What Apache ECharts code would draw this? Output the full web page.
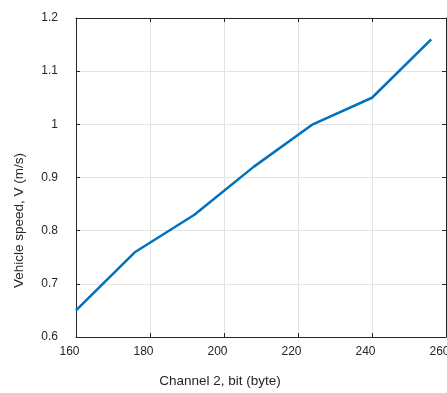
<!DOCTYPE html>
<html><head><meta charset="utf-8">
<script src="https://cdn.jsdelivr.net/npm/echarts@6/dist/echarts.min.js"></script>
<style>html,body{margin:0;padding:0;background:#fff}#c{width:447px;height:393px}</style>
</head><body><div id="c"></div>
<script>
const xValues = [160, 176, 192, 208, 224, 240, 256];
const speed = [0.65, 0.76, 0.83, 0.92, 1.0, 1.05, 1.16];
const xTicks = [160, 180, 200, 220, 240, 260];
const yTicks = [0.6, 0.7, 0.8, 0.9, 1, 1.1, 1.2];

const chart = echarts.init(document.getElementById('c'));
const axisCol = '#262626';
const font = 'Liberation Sans, Arial, sans-serif';
const common = {
  axisLine: {show: true, lineStyle: {color: axisCol, width: 1}},
  axisTick: {show: true, inside: true, length: 4, lineStyle: {color: axisCol}},
  splitLine: {show: false}
};
chart.setOption({
  animation: false,
  grid: {left: 76, right: 1, top: 18, bottom: 56, containLabel: false, outerBoundsMode: 'none'},
  xAxis: [
    Object.assign({}, common, {
      type: 'value', min: 160, max: 260, interval: 20,
      splitLine: {show: true, lineStyle: {color: '#e3e3e3', width: 1}},
      axisLabel: {color: axisCol, fontSize: 12, fontFamily: font, margin: 9, padding: [0, 13, 0, 0],
        hideOverlap: false, showMaxLabel: true, showMinLabel: true,
        formatter: v => xTicks.includes(v) ? String(v) : ''},
      name: 'Channel 2, bit (byte)', nameLocation: 'middle', nameGap: 37,
      nameTextStyle: {color: axisCol, fontSize: 13.5, fontFamily: font, padding: [0, 82, 0, 0]}
    }),
    Object.assign({}, common, {
      type: 'value', min: 160, max: 260, interval: 20, position: 'top',
      axisLabel: {show: false}
    })
  ],
  yAxis: [
    Object.assign({}, common, {
      type: 'value', min: 0.6, max: 1.2, interval: 0.1,
      splitLine: {show: true, lineStyle: {color: '#e3e3e3', width: 1}},
      axisLabel: {color: axisCol, fontSize: 12, fontFamily: font, margin: 18, padding: [0, 0, 12, 0],
        showMaxLabel: true, showMinLabel: true,
        formatter: v => { const r = Math.round(v * 10) / 10; return yTicks.includes(r) ? String(r) : ''; }},
      name: 'Vehicle speed, V (m/s)', nameLocation: 'middle', nameGap: 50, nameRotate: 90,
      nameTextStyle: {color: axisCol, fontSize: 13.5, fontFamily: font, padding: [0, 86, 0, 0]}
    }),
    Object.assign({}, common, {
      type: 'value', min: 0.6, max: 1.2, interval: 0.1, position: 'right',
      axisLabel: {show: false}
    })
  ],
  series: [{
    type: 'line',
    data: xValues.map((x, i) => [x, speed[i]]),
    showSymbol: false,
    lineStyle: {color: '#0072BD', width: 2.5},
    itemStyle: {color: '#0072BD'}
  }]
});
</script></body></html>
